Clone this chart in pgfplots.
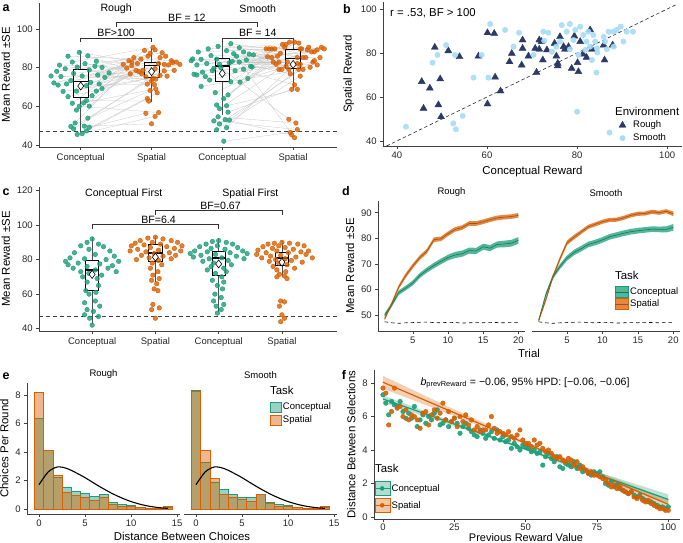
\documentclass[border=0pt]{standalone}
\usepackage{fontspec}
\setmainfont{Liberation Sans}
\usepackage{pgfplots}
\usepackage{pgfplotstable}
\pgfplotsset{compat=1.18}

\definecolor{dgreen}{HTML}{1B9E77}
\definecolor{dorange}{HTML}{D95F02}
\definecolor{navy}{HTML}{2B3A67}
\definecolor{lblue}{HTML}{A6DCF4}

\newcommand{\tickfont}{\fontsize{9.5}{10}\selectfont}
\newcommand{\labfont}{\fontsize{11.4}{12}\selectfont}
\newcommand{\annfont}{\fontsize{10.6}{11}\selectfont}

\pgfplotsset{
  gg/.style={
    scale only axis, anchor=south west, clip=false,
    axis x line*=bottom, axis y line*=left,
    axis line style={black!75, line width=0.6pt},
    tick align=outside, major tick length=2.8pt,
    tick style={black!75, line width=0.6pt},
    tick label style={font=\tickfont, black!85},
    label style={font=\labfont},
    /pgf/number format/assume math mode=true,
    legend style={draw=none, fill=none, font=\tickfont, anchor=north west,
      inner sep=0pt, nodes={inner sep=1.5pt}},
    legend cell align=left,
  },
  gpt/.style={only marks, #1, mark=*, mark size=2.3pt,
    mark options={draw=none, fill=#1, fill opacity=0.8}},
}

% box plot: position, lower whisker, lower quartile, median, upper quartile, upper whisker
\newcommand{\bxp}[6]{%
  \pgfmathsetmacro{\bxl}{#1-0.105}%
  \pgfmathsetmacro{\bxr}{#1+0.105}%
  \edef\bxcmd{%
    \noexpand\addplot[black!70, line width=0.6pt] coordinates {(#1,#2) (#1,#3)};
    \noexpand\addplot[black!70, line width=0.6pt] coordinates {(#1,#5) (#1,#6)};
    \noexpand\addplot[black, line width=0.6pt] coordinates {(\bxl,#3) (\bxr,#3) (\bxr,#5) (\bxl,#5) (\bxl,#3)};
    \noexpand\addplot[black, line width=1.4pt] coordinates {(\bxl,#4) (\bxr,#4)};
  }\bxcmd}

% conceptual (c) and spatial (s) reward per participant, with jitter offsets
\pgfplotstableread{
c s jc js
45.5 67.0 -0.05 0.08
47.3 64.0 0.08 -0.06
45.9 54.8 0.02 0.05
48.4 82.6 -0.10 0.30
49.2 56.4 0.12 -0.08
49.6 68.2 -0.14 -0.02
49.8 51.0 0.05 0.00
51.4 81.0 -0.08 -0.28
53.9 78.3 0.10 0.18
58.1 78.6 -0.06 -0.22
60.1 89.2 0.12 0.05
61.6 88.9 -0.12 -0.10
61.8 69.0 0.04 0.06
60.1 56.8 -0.02 0.10
63.0 62.7 0.08 -0.04
65.0 76.0 -0.18 0.12
65.5 79.8 0.16 -0.35
67.7 74.5 -0.25 0.02
67.9 85.9 0.22 0.20
67.9 82.1 -0.06 0.10
69.2 78.6 0.30 -0.12
71.0 71.2 -0.32 0.04
70.7 82.1 0.08 -0.20
71.6 85.9 -0.20 -0.05
71.6 81.7 0.26 0.40
72.1 85.2 -0.38 0.12
72.4 76.8 0.14 -0.30
73.3 81.4 -0.14 0.24
75.0 84.4 0.34 -0.15
75.4 78.6 -0.28 0.32
75.7 75.3 0.02 -0.08
75.7 74.1 -0.42 0.06
76.2 87.4 0.24 -0.02
77.0 82.9 -0.10 0.35
77.3 81.7 0.40 -0.40
78.1 82.9 -0.34 -0.28
78.8 73.0 0.12 0.00
79.4 87.7 -0.22 0.15
80.1 75.6 0.30 0.22
80.3 71.5 -0.05 -0.06
80.7 85.2 0.20 -0.25
81.3 79.5 -0.30 0.05
82.1 78.0 0.06 -0.18
82.9 90.5 -0.12 0.02
83.3 81.7 0.22 0.18
85.9 83.6 -0.18 0.28
86.1 76.8 0.10 -0.14
87.9 83.6 -0.02 -0.32
}\roughtab

\pgfplotstableread{
c s jc js
42.0 46.5 0.02 -0.04
47.9 75.6 -0.08 0.10
49.0 79.1 0.06 -0.06
50.9 83.6 -0.04 0.30
52.9 79.1 0.10 0.08
52.5 48.0 -0.12 0.06
53.1 45.3 0.04 -0.02
54.6 51.4 -0.06 0.04
57.0 68.8 0.08 -0.02
58.8 79.1 -0.04 -0.20
60.3 68.8 0.06 0.06
60.7 93.2 -0.08 0.02
64.0 90.5 0.02 -0.12
67.1 89.2 -0.10 0.20
65.9 82.9 0.08 -0.28
70.3 79.1 -0.30 0.14
72.5 89.7 0.25 -0.30
73.6 89.2 -0.18 0.34
74.4 80.6 0.36 -0.10
76.6 92.7 -0.40 0.08
78.4 93.2 0.18 -0.05
77.7 89.7 -0.28 0.10
79.2 85.9 0.30 -0.22
79.6 90.5 -0.12 0.40
80.7 92.0 0.40 -0.15
81.4 88.2 -0.36 0.26
82.5 89.7 0.10 -0.38
82.1 85.2 -0.22 0.18
82.9 82.9 0.24 -0.08
83.6 88.2 -0.44 0.30
84.0 85.2 0.34 -0.30
84.4 82.1 -0.08 0.06
83.3 76.8 0.14 -0.04
84.3 71.1 -0.30 0.02
85.9 87.4 0.20 -0.18
86.2 85.2 -0.16 0.38
87.0 89.7 0.38 0.12
88.1 89.7 -0.34 -0.26
88.8 90.5 0.06 0.22
89.7 92.0 -0.20 -0.10
90.3 85.2 0.24 0.14
91.0 89.7 -0.06 0.44
92.4 89.7 0.12 -0.34
80.0 53.3 -0.02 -0.06
87.2 43.8 0.16 0.02
84.5 80.2 -0.42 0.24
88.1 82.9 0.30 -0.20
78.4 81.7 -0.14 0.10
80.3 79.1 0.42 -0.16
75.4 82.9 -0.24 0.28
72.7 85.6 0.12 -0.36
76.2 85.2 -0.36 0.06
86.6 81.7 0.44 -0.24
81.8 81.4 -0.04 0.34
}\smoothtab

% learning curves: mean reward per trial
\pgfplotstableread{
t rc rs sc ss base
1 50.0 48.5 48.0 48.0 47.4
2 54.0 54.5 58.0 56.0 47.0
3 58.8 61.0 65.0 65.0 46.8
4 60.6 65.5 69.0 72.0 47.0
5 62.6 69.2 72.3 78.3 47.1
6 65.5 72.5 74.5 80.5 47.2
7 67.6 75.0 76.0 82.5 47.3
8 69.4 79.5 77.6 84.5 47.1
9 71.0 79.8 78.4 85.5 47.0
10 72.5 81.8 79.4 86.5 47.2
11 73.5 83.5 80.6 87.2 47.1
12 74.0 84.2 81.3 87.3 46.9
13 75.2 85.8 82.0 88.0 47.0
14 75.1 85.8 82.6 89.0 47.1
15 76.7 86.5 83.0 89.6 47.0
16 76.2 87.3 83.3 89.7 47.2
17 77.6 88.0 83.6 90.4 47.1
18 77.8 88.3 83.5 90.0 47.0
19 78.1 88.5 83.5 90.6 47.1
20 79.2 89.0 84.3 89.6 47.1
}\dtab

% SE bands: mean+SE forward, then mean-SE backward
\pgfplotstableread{
t rc rs sc ss
1 50.8 49.1 48.6 48.6
2 54.8 55.2 58.8 56.8
3 59.7 61.8 65.9 65.8
4 61.5 66.4 70.0 72.9
5 63.6 70.1 73.3 79.2
6 66.5 73.4 75.6 81.4
7 68.6 75.9 77.1 83.3
8 70.5 80.4 78.7 85.3
9 72.1 80.7 79.5 86.3
10 73.6 82.7 80.5 87.3
11 74.7 84.4 81.7 88.0
12 75.2 85.1 82.4 88.1
13 76.4 86.7 83.1 88.8
14 76.3 86.7 83.7 89.8
15 77.9 87.4 84.1 90.4
16 77.4 88.2 84.4 90.5
17 78.8 88.9 84.7 91.2
18 79.1 89.2 84.6 90.8
19 79.4 89.4 84.7 91.4
20 80.5 89.9 85.6 90.5
20 77.9 88.1 83.0 88.7
19 76.8 87.6 82.3 89.8
18 76.5 87.4 82.4 89.2
17 76.4 87.1 82.5 89.6
16 75.0 86.4 82.2 88.9
15 75.5 85.6 81.9 88.8
14 73.9 84.9 81.5 88.2
13 74.0 84.9 80.9 87.2
12 72.8 83.3 80.2 86.5
11 72.3 82.6 79.5 86.4
10 71.4 80.9 78.3 85.7
9 69.9 78.9 77.3 84.7
8 68.3 78.6 76.5 83.7
7 66.6 74.1 74.9 81.7
6 64.5 71.6 73.4 79.6
5 61.6 68.3 71.3 77.4
4 59.7 64.6 68.0 71.1
3 57.9 60.2 64.1 64.2
2 53.2 53.8 57.2 55.2
1 49.2 47.9 47.4 47.4
}\dband

% choices per round by distance
\pgfplotstableread{
d rc rs sc ss
0 6.35 8.20 8.30 8.25
1 4.15 4.10 3.25 4.15
2 2.25 2.40 1.90 2.15
3 1.50 1.20 1.35 1.05
4 1.25 0.95 1.05 0.85
5 1.10 0.80 0.85 0.70
6 0.90 0.60 0.80 0.55
7 1.05 0.85 1.00 1.05
8 0.50 0.35 0.50 0.40
9 0.35 0.20 0.35 0.20
10 0.25 0.20 0.25 0.20
11 0.10 0.10 0.10 0.10
12 0.05 0.05 0.05 0.05
13 0.02 0.05 0.03 0.05
14 0.15 0.20 0.10 0.20
}\etab

% distance between selections by previous reward
\pgfplotstableread{
x c s
0 7.3 7.7
1 6.8 7.4
2 6.1 5.5
3 6.9 6.3
4 6.7 7.7
5 6.6 6.5
6 6.9 6.6
7 6.3 6.0
8 5.9 6.4
9 6.2 5.8
10 5.9 6.1
11 6.6 6.0
12 5.4 5.8
13 5.8 5.3
14 6.1 6.2
15 5.6 6.3
16 6.0 5.5
17 5.8 6.1
18 6.2 6.4
19 6.4 5.9
20 5.5 6.2
21 5.6 6.8
22 5.8 5.8
23 5.4 6.3
24 5.7 5.7
25 5.9 5.9
26 5.6 5.4
27 5.0 6.0
28 5.4 5.7
29 5.6 6.1
30 5.3 5.5
31 5.1 5.8
32 4.9 5.2
33 4.8 5.4
34 5.2 5.1
35 5.0 5.2
36 4.7 5.2
37 4.9 5.5
38 5.1 6.0
39 4.7 5.3
40 5.2 5.0
41 4.6 5.1
42 4.8 5.0
43 4.5 4.9
44 4.6 5.1
45 4.1 4.8
46 4.4 4.7
47 4.2 4.9
48 4.0 5.2
49 4.3 4.6
50 4.2 4.4
51 4.1 4.4
52 3.9 4.2
53 4.0 4.6
54 3.8 4.3
55 3.9 4.4
56 3.1 4.1
57 3.6 3.9
58 3.8 4.0
59 3.5 3.8
60 3.3 3.6
61 3.6 3.5
62 3.0 3.6
63 2.9 3.4
64 3.2 3.3
65 3.1 3.5
66 3.0 3.4
67 3.3 3.1
68 2.9 3.3
69 3.1 2.9
70 2.7 3.0
71 2.8 2.8
72 2.6 2.6
73 2.5 2.7
74 2.7 2.5
75 2.6 2.5
76 2.7 2.4
77 2.4 2.3
78 2.0 2.2
79 1.9 2.0
80 2.1 1.8
81 1.8 1.9
82 1.9 1.7
83 1.7 1.8
84 1.6 1.6
85 1.5 1.5
86 1.4 1.4
87 1.5 1.5
88 1.3 1.2
89 1.2 1.1
90 1.3 1.2
91 1.1 1.0
92 1.0 0.9
93 0.9 1.0
94 0.9 0.8
95 0.8 0.7
96 0.7 0.6
97 0.6 0.5
98 0.6 0.5
99 0.5 0.4
100 0.6 0.4
}\ftab

\begin{document}
\begin{tikzpicture}
\path[use as bounding box] (0pt,0pt) rectangle (683pt,-543pt);

% ---------------- a ----------------
\begin{axis}[gg, at={(39pt,-147pt)}, width=298pt, height=144pt,
  xmin=0.41, xmax=4.62, ymin=39, ymax=113.4,
  xtick={1,2,3,4}, xticklabels={Conceptual,Spatial,Conceptual,Spatial},
  ytick={40,60,80,100}, ylabel={Mean Reward ±SE}]
\addplot[gray!45, line width=0.3pt, mark=none,
  quiver={u=1+\thisrow{js}-\thisrow{jc}, v=\thisrow{s}-\thisrow{c}}]
  table[x expr=1+\thisrow{jc}, y=c] {\roughtab};
\addplot[gray!45, line width=0.3pt, mark=none,
  quiver={u=1+\thisrow{js}-\thisrow{jc}, v=\thisrow{s}-\thisrow{c}}]
  table[x expr=3+\thisrow{jc}, y=c] {\smoothtab};
\addplot[gpt=dgreen] table[x expr=1+\thisrow{jc}, y=c] {\roughtab};
\addplot[gpt=dorange] table[x expr=2+\thisrow{js}, y=s] {\roughtab};
\addplot[gpt=dgreen] table[x expr=3+\thisrow{jc}, y=c] {\smoothtab};
\addplot[gpt=dorange] table[x expr=4+\thisrow{js}, y=s] {\smoothtab};
\addplot[black!75, line width=0.6pt, dash pattern=on 4pt off 3pt] coordinates {(0.41,47.2) (4.62,47.2)};
\bxp{1}{46.8}{64.6}{72.7}{79.3}{88.6}
\bxp{2}{62}{74.8}{81}{83}{90}
\bxp{3}{55.5}{72.7}{80.8}{85}{93}
\bxp{4}{68.5}{79.6}{84.8}{89.4}{93.4}
\addplot[only marks, mark=diamond*, mark size=4pt, mark options={fill=white, draw=black, line width=0.6pt}]
  coordinates {(1,70.5) (2,77.9) (3,77) (4,81.7)};
\addplot[black!80, line width=0.6pt] coordinates {(1,93.2) (1,95.2) (2,95.2) (2,93.2)};
\addplot[black!80, line width=0.6pt] coordinates {(3,93.2) (3,95.2) (4,95.2) (4,93.2)};
\addplot[black!80, line width=0.6pt] coordinates {(1.5,101.2) (1.5,103.3) (3.5,103.3) (3.5,101.2)};
\node[font=\annfont, anchor=south, inner sep=1pt] at (axis cs:1.5,95.3) {BF>100};
\node[font=\annfont, anchor=south, inner sep=1pt] at (axis cs:3.5,95.3) {BF = 14};
\node[font=\annfont, anchor=south, inner sep=1pt] at (axis cs:2.5,103.4) {BF = 12};
\node[font=\annfont] at (axis cs:1.5,110.3) {Rough};
\node[font=\annfont] at (axis cs:3.5,110.3) {Smooth};
\end{axis}

% ---------------- b ----------------
\begin{axis}[gg, at={(383pt,-146pt)}, width=299pt, height=144pt,
  xmin=36.9, xmax=103.3, ymin=37.7, ymax=103.2,
  xtick={40,60,80,100}, ytick={40,60,80,100},
  xlabel={Conceptual Reward}, ylabel={Spatial Reward},
  legend style={at={(0.783,0.185)}, row sep=1.5pt},
  legend image code/.code={\draw[#1] plot coordinates {(5pt,0pt)}; \path (0pt,0pt) (14pt,0pt);}]
\addlegendimage{only marks, navy, mark=triangle*, mark size=4pt, mark options={fill=navy, draw=none}}
\addlegendentry{Rough}
\addlegendimage{only marks, lblue, mark=*, mark size=2.7pt, mark options={fill=lblue, draw=none}}
\addlegendentry{Smooth}
\addplot[black!85, line width=0.6pt, dash pattern=on 3.5pt off 2.5pt] coordinates {(37.7,37.7) (102,102)};
\addplot[only marks, navy, mark=triangle*, mark size=4pt, mark options={fill=navy, draw=none}]
  table[x=c, y=s] {\roughtab};
\addplot[only marks, lblue, mark=*, mark size=2.7pt, mark options={fill=lblue, draw=none, fill opacity=0.9}]
  table[x=c, y=s] {\smoothtab};
\node[font=\labfont] at (axis cs:48,98.2) {r = .53, BF > 100};
\node[font=\labfont, anchor=west, inner sep=0pt] at (axis description cs:0.776,0.243) {Environment};
\end{axis}

% ---------------- c ----------------
\begin{axis}[gg, at={(39pt,-331pt)}, width=298pt, height=144pt,
  xmin=0.16, xmax=4.87, ymin=38.6, ymax=122.1,
  xtick={1,2,3,4}, xticklabels={Conceptual,Spatial,Conceptual,Spatial},
  ytick={40,60,80,100,120}, ylabel={Mean Reward ±SE}]
\addplot[gpt=dgreen] coordinates {(1.00,92) (0.92,90) (1.10,89) (0.82,88) (1.18,87.5) (0.95,86) (1.28,85) (0.72,84) (1.05,83) (1.35,82) (0.65,81) (0.88,80.5) (1.22,80) (0.58,79) (1.42,79) (0.78,78) (1.12,77.5) (0.62,77) (1.32,76.5) (0.92,76) (0.70,75) (1.25,75) (1.05,74) (0.82,73) (1.38,73) (0.95,72) (1.15,71) (0.85,70) (1.08,69) (0.92,67) (1.10,65) (0.90,62) (1.06,61) (0.95,60) (1.05,56) (0.88,55) (1.12,53) (0.92,51) (1.02,50) (0.88,48) (1.10,47) (0.96,46) (1.00,42)};
\addplot[gpt=dorange] coordinates {(2.00,93) (1.88,92.5) (2.12,92) (1.76,91) (2.25,91) (1.95,90) (2.35,90) (1.68,89.5) (2.08,89) (1.82,88.5) (2.42,88) (1.62,88) (2.18,87.5) (1.92,87) (2.30,86.5) (1.72,86) (2.05,85.5) (2.40,85) (1.60,85) (1.85,84.5) (2.22,84) (1.98,83.5) (1.78,82.5) (2.32,82.5) (2.12,82) (1.90,81) (2.25,80.5) (1.70,80) (2.05,79.5) (1.95,78) (2.10,77) (1.92,75) (2.04,73) (1.96,71) (2.06,69) (1.94,68) (2.02,66) (1.98,63) (2.04,62) (1.96,54) (2.06,52) (1.94,51) (2.00,46)};
\addplot[gpt=dgreen] coordinates {(3.00,91) (2.90,90.5) (3.12,90) (2.80,89) (3.22,89) (2.98,88) (2.70,87.5) (3.30,87) (2.88,86.5) (3.10,86) (2.62,85) (3.38,85) (2.82,84.5) (3.18,84) (2.55,83.5) (3.45,83.5) (2.95,83) (2.72,82.5) (3.28,82) (2.60,81.5) (3.05,81) (2.85,80.5) (3.40,80.5) (3.15,79.5) (2.75,79) (2.92,78) (3.20,77) (2.88,76) (3.08,75) (2.82,74) (3.12,73) (2.95,72) (3.05,70) (2.90,68) (3.08,67) (2.98,65) (3.06,63) (2.94,60) (3.04,58) (2.92,56) (3.08,54) (2.96,53) (3.04,51) (2.98,49)};
\addplot[gpt=dorange] coordinates {(4.00,90) (3.88,89.5) (4.12,89.5) (3.78,89) (4.25,89) (3.95,88) (4.35,88) (3.70,87.5) (4.05,87) (3.85,86.5) (4.18,86) (3.62,85.5) (4.42,85) (3.92,85) (4.30,84.5) (3.75,84) (4.10,84) (3.60,83) (4.38,83) (3.98,82.5) (3.82,82) (4.22,81.5) (3.68,81) (4.48,81) (4.05,80.5) (3.90,80) (4.15,79.5) (3.80,79) (4.32,78.5) (3.95,78) (4.08,77) (3.86,76) (4.20,75) (3.92,74) (4.06,73) (3.96,71.5) (4.04,70.5) (3.92,70) (4.08,69) (3.98,56) (4.04,55.5) (3.96,53) (4.00,48) (4.04,46) (3.98,44)};
\addplot[black!75, line width=0.6pt, dash pattern=on 4pt off 3pt] coordinates {(0.16,47.2) (4.87,47.2)};
\bxp{1}{42.4}{62}{74}{79.4}{92.9}
\bxp{2}{66.8}{78.9}{83.9}{89.1}{93.9}
\bxp{3}{49.9}{70.7}{81}{84.8}{92.5}
\bxp{4}{70}{76.5}{81}{84.2}{91}
\addplot[only marks, mark=diamond*, mark size=4pt, mark options={fill=white, draw=black, line width=0.6pt}]
  coordinates {(1,71.4) (2,81.4) (3,77.5) (4,78.5)};
\addplot[black!80, line width=0.6pt] coordinates {(1,97.8) (1,100.3) (3,100.3) (3,97.8)};
\addplot[black!80, line width=0.6pt] coordinates {(2,106.1) (2,108.4) (4,108.4) (4,106.1)};
\node[font=\annfont, anchor=south, inner sep=1pt] at (axis cs:2.05,100.4) {BF=6.4};
\node[font=\annfont, anchor=south, inner sep=1pt] at (axis cs:3.03,108.5) {BF=0.67};
\node[font=\annfont] at (axis cs:1.5,118.3) {Conceptual First};
\node[font=\annfont] at (axis cs:3.5,118.3) {Spatial First};
\end{axis}

% ---------------- d ----------------
\begin{axis}[gg, at={(378pt,-331pt)}, width=147pt, height=130pt,
  xmin=0.05, xmax=20.95, ymin=43.8, ymax=94.6,
  xtick={5,10,15,20}, ytick={50,60,70,80,90}, ylabel={Mean Reward ±SE}]
\addplot[fill=dgreen, fill opacity=0.75, draw=none] table[x=t, y=rc] {\dband};
\addplot[fill=dorange, fill opacity=0.75, draw=none] table[x=t, y=rs] {\dband};
\addplot[dgreen!75!black, line width=0.6pt] table[x=t, y=rc] {\dtab};
\addplot[dorange!80!black, line width=0.6pt] table[x=t, y=rs] {\dtab};
\addplot[black, line width=0.6pt, dash pattern=on 3.5pt off 3pt] table[x=t, y=base] {\dtab};
\node[font=\tickfont, anchor=south, inner sep=0pt] at (axis description cs:0.5,1.03) {Rough};
\end{axis}
\begin{axis}[gg, at={(532pt,-331pt)}, width=148pt, height=130pt,
  xmin=0.05, xmax=20.95, ymin=43.8, ymax=94.6, axis y line=none, ytick=\empty,
  xtick={5,10,15,20},
  legend style={at={(0.56,0.345)}, row sep=0.5pt}]
\addlegendimage{legend image code/.code={\fill[dgreen, fill opacity=0.75] (0pt,-5.5pt) rectangle (13pt,5.5pt); \draw[dgreen!75!black, line width=0.6pt] (0pt,0pt) -- (13pt,0pt);}}
\addlegendentry{Conceptual}
\addlegendimage{legend image code/.code={\fill[dorange, fill opacity=0.75] (0pt,-5.5pt) rectangle (13pt,5.5pt); \draw[dorange!80!black, line width=0.6pt] (0pt,0pt) -- (13pt,0pt);}}
\addlegendentry{Spatial}
\addplot[fill=dgreen, fill opacity=0.75, draw=none] table[x=t, y=sc] {\dband};
\addplot[fill=dorange, fill opacity=0.75, draw=none] table[x=t, y=ss] {\dband};
\addplot[dgreen!75!black, line width=0.6pt] table[x=t, y=sc] {\dtab};
\addplot[dorange!80!black, line width=0.6pt] table[x=t, y=ss] {\dtab};
\addplot[black, line width=0.6pt, dash pattern=on 3.5pt off 3pt] table[x=t, y=base] {\dtab};
\node[font=\tickfont, anchor=south, inner sep=0pt] at (axis description cs:0.5,1.03) {Smooth};
\node[font=\labfont, anchor=west, inner sep=0pt] at (axis description cs:0.56,0.43) {Task};
\end{axis}
\node[font=\labfont] at (529pt,-353pt) {Trial};

% ---------------- e ----------------
\begin{axis}[gg, at={(27pt,-514pt)}, width=153pt, height=131pt,
  xmin=-1.3, xmax=15.3, ymin=-0.35, ymax=8.84,
  xtick={0,5,10,15}, ytick={0,2,4,6,8}, ylabel={Choices Per Round}]
\addplot[ybar, bar width=1, bar shift=0pt, fill=dgreen, fill opacity=0.45, draw=dgreen, line width=0.6pt] table[x=d, y=rc] {\etab};
\addplot[ybar, bar width=1, bar shift=0pt, fill=dorange, fill opacity=0.45, draw=dorange, line width=0.6pt] table[x=d, y=rs] {\etab};
\addplot[black, line width=1.1pt, smooth] coordinates {(0,1.7) (1,2.6) (2,2.95) (3,2.85) (4,2.55) (5,2.2) (6,1.8) (7,1.42) (8,1.07) (9,0.77) (10,0.52) (11,0.33) (12,0.19) (13,0.1) (14,0.04)};
\node[font=\tickfont, anchor=south, inner sep=0pt] at (axis description cs:0.5,1.03) {Rough};
\end{axis}
\begin{axis}[gg, at={(184pt,-514pt)}, width=153pt, height=131pt,
  xmin=-1.3, xmax=15.3, ymin=-0.35, ymax=8.84, axis y line=none, ytick=\empty,
  xtick={0,5,10,15},
  legend style={at={(0.56,0.86)}, row sep=1.5pt}]
\addlegendimage{legend image code/.code={\filldraw[fill=dgreen, fill opacity=0.45, draw=dgreen, line width=0.6pt] (0pt,-5pt) rectangle (11pt,5pt);}}
\addlegendentry{Conceptual}
\addlegendimage{legend image code/.code={\filldraw[fill=dorange, fill opacity=0.45, draw=dorange, line width=0.6pt] (0pt,-5pt) rectangle (11pt,5pt);}}
\addlegendentry{Spatial}
\addplot[ybar, bar width=1, bar shift=0pt, fill=dgreen, fill opacity=0.45, draw=dgreen, line width=0.6pt] table[x=d, y=sc] {\etab};
\addplot[ybar, bar width=1, bar shift=0pt, fill=dorange, fill opacity=0.45, draw=dorange, line width=0.6pt] table[x=d, y=ss] {\etab};
\addplot[black, line width=1.1pt, smooth] coordinates {(0,1.7) (1,2.6) (2,2.95) (3,2.85) (4,2.55) (5,2.2) (6,1.8) (7,1.42) (8,1.07) (9,0.77) (10,0.52) (11,0.33) (12,0.19) (13,0.1) (14,0.04)};
\node[font=\tickfont, anchor=south, inner sep=0pt] at (axis description cs:0.5,1.03) {Smooth};
\node[font=\labfont, anchor=west, inner sep=0pt] at (axis description cs:0.562,0.94) {Task};
\end{axis}
\node[font=\labfont] at (182pt,-536pt) {Distance Between Choices};

% ---------------- f ----------------
\begin{axis}[gg, at={(374pt,-519pt)}, width=306pt, height=149pt,
  xmin=-3.15, xmax=104.1, ymin=-0.12, ymax=8.78,
  xtick={0,25,50,75,100}, ytick={0,2,4,6,8},
  xticklabel style={yshift=1.5pt},
  ylabel={Distance Between Selections},
  legend style={at={(0.0,0.255)}, row sep=2.5pt}]
\addlegendimage{legend image code/.code={\fill[dgreen, fill opacity=0.35] (0pt,-7pt) rectangle (15pt,7pt); \draw[dgreen, line width=1pt] (0pt,0pt) -- (15pt,0pt); \fill[dgreen] (7.5pt,0pt) circle (2pt);}}
\addlegendentry{Conceptual}
\addlegendimage{legend image code/.code={\fill[dorange, fill opacity=0.35] (0pt,-7pt) rectangle (15pt,7pt); \draw[dorange, line width=1pt] (0pt,0pt) -- (15pt,0pt); \fill[dorange] (7.5pt,0pt) circle (2pt);}}
\addlegendentry{Spatial}
\addplot[fill=dgreen, fill opacity=0.3, draw=none] coordinates {(0,7.27) (25,5.67) (50,4.13) (75,2.70) (100,1.35) (100,0.75) (75,2.40) (50,3.97) (25,5.43) (0,6.83)};
\addplot[fill=dorange, fill opacity=0.3, draw=none] coordinates {(0,8.43) (25,6.42) (50,4.50) (75,2.72) (100,1.05) (100,0.45) (75,2.43) (50,4.30) (25,6.03) (0,7.67)};
\addplot[only marks, dgreen, mark=*, mark size=2.3pt, mark options={draw=none, fill=dgreen, fill opacity=0.9}] table[x=x, y=c] {\ftab};
\addplot[only marks, dorange, mark=*, mark size=2.3pt, mark options={draw=none, fill=dorange, fill opacity=0.9}] table[x=x, y=s] {\ftab};
\addplot[dgreen, line width=1.2pt] coordinates {(0,7.05) (100,1.05)};
\addplot[dorange, line width=1.2pt] coordinates {(0,8.05) (100,0.75)};
\node[font=\annfont] at (axis cs:49.8,8.0) {\textit{b}\textsubscript{prevReward} = −0.06, 95\% HPD: [−0.06, −0.06]};
\node[font=\labfont, anchor=west, inner sep=0pt] at (axis description cs:0.003,0.342) {Task};
\end{axis}
\node[font=\fontsize{11}{12}\selectfont] at (526pt,-537.5pt) {Previous Reward Value};

% panel letters
\node[font=\fontsize{12.5}{13}\selectfont\bfseries] at (6pt,-8pt) {a};
\node[font=\fontsize{12.5}{13}\selectfont\bfseries] at (347pt,-9pt) {b};
\node[font=\fontsize{12.5}{13}\selectfont\bfseries] at (6pt,-192pt) {c};
\node[font=\fontsize{12.5}{13}\selectfont\bfseries] at (346pt,-191pt) {d};
\node[font=\fontsize{12.5}{13}\selectfont\bfseries] at (6pt,-376pt) {e};
\node[font=\fontsize{12.5}{13}\selectfont\bfseries] at (344pt,-375pt) {f};
\end{tikzpicture}
\end{document}
